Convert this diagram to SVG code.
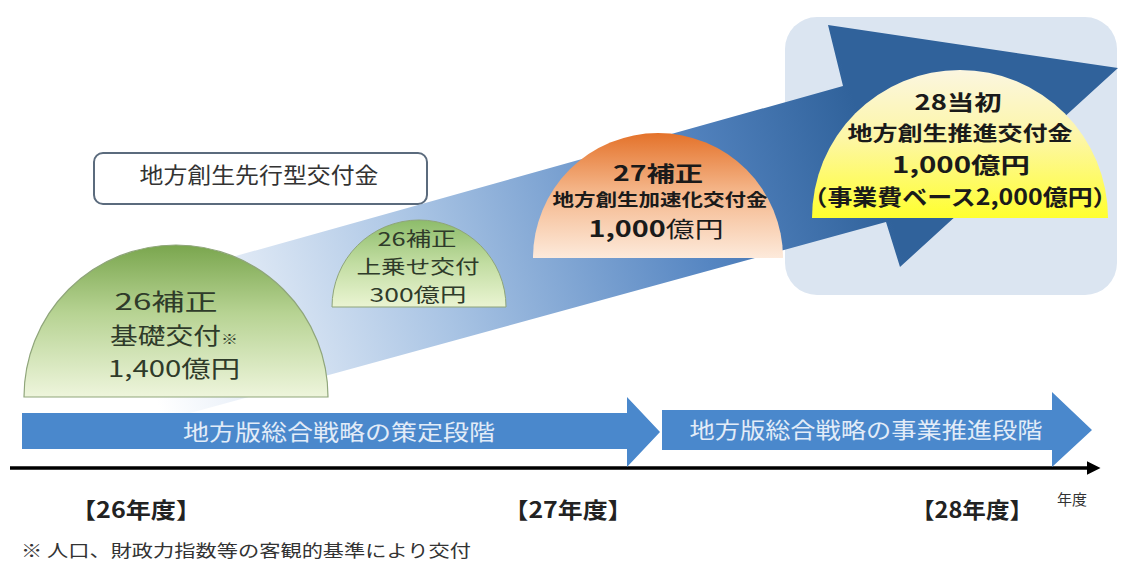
<svg xmlns="http://www.w3.org/2000/svg" width="1122" height="565" viewBox="0 0 1122 565">
<defs>
<linearGradient id="gShaft" gradientUnits="userSpaceOnUse" x1="150" y1="380" x2="870" y2="150">
<stop offset="0" stop-color="#ffffff"/>
<stop offset="0.12" stop-color="#e8eff8"/>
<stop offset="0.4" stop-color="#a9c4e4"/>
<stop offset="0.75" stop-color="#5686c2"/>
<stop offset="1" stop-color="#30629b"/>
</linearGradient>
<linearGradient id="gGreenBig" x1="0" y1="0" x2="0" y2="1">
<stop offset="0" stop-color="#7aa64e"/>
<stop offset="0.45" stop-color="#b7d393"/>
<stop offset="1" stop-color="#eef5dc"/>
</linearGradient>
<linearGradient id="gGreenSmall" x1="0" y1="0" x2="0" y2="1">
<stop offset="0" stop-color="#8dbc6a"/>
<stop offset="0.5" stop-color="#c2dda2"/>
<stop offset="1" stop-color="#eaf4d2"/>
</linearGradient>
<linearGradient id="gOrange" x1="0" y1="0" x2="0" y2="1">
<stop offset="0" stop-color="#e4722a"/>
<stop offset="0.45" stop-color="#f4b487"/>
<stop offset="1" stop-color="#fdeadb"/>
</linearGradient>
<linearGradient id="gYellow" x1="0" y1="0" x2="0" y2="1">
<stop offset="0" stop-color="#fbf6e0"/>
<stop offset="0.45" stop-color="#fdf6a8"/>
<stop offset="1" stop-color="#ffff2e"/>
</linearGradient>
<marker id="axisHead" markerWidth="4" markerHeight="4" refX="1" refY="2" orient="auto" markerUnits="strokeWidth">
<path d="M0,0 L4,2 L0,4 Z" fill="#000"/>
</marker>
</defs>
<style>
text{font-family:"Noto Sans CJK JP","Noto Sans",sans-serif;text-anchor:middle}
.g{fill:#2f3b2a}
.dk{fill:#1a1a1a;font-weight:bold}
.bar{fill:#4a88cc}
.bt{fill:#e2ecf8;font-size:22px}
.yr{fill:#222;font-weight:bold;font-size:22px}
</style>
<rect width="1122" height="565" fill="#ffffff"/>

<g id="panel28">
<rect x="785" y="17" width="332" height="278" rx="32" fill="#dbe5f1"/>
</g>

<g id="connectors">
<polygon id="bigArrow" points="150,280 843,86 828,25 1118,68 900,267 886,222 150,424" fill="url(#gShaft)"/>
<line x1="10" y1="468" x2="1090" y2="468" stroke="#000" stroke-width="3.5" marker-end="url(#axisHead)"/>
</g>

<g id="box-senko">
<rect x="94" y="153" width="333" height="51" rx="9" fill="#ffffff" stroke="#5b6b7d" stroke-width="2"/>
<text x="259" y="183" font-size="22" fill="#333" textLength="239" lengthAdjust="spacingAndGlyphs">地方創生先行型交付金</text>
</g>

<g id="node-26kiso">
<path d="M24,397 A152,152 0 0 1 328,397 Z" fill="url(#gGreenBig)" stroke="#8fa57a" stroke-width="1.2"/>
<text class="g" x="166" y="310" font-size="23" textLength="103" lengthAdjust="spacingAndGlyphs">26補正</text>
<text class="g" x="174" y="344" font-size="23" textLength="128" lengthAdjust="spacingAndGlyphs">基礎交付<tspan font-size="14">※</tspan></text>
<text class="g" x="174" y="377" font-size="23" textLength="132" lengthAdjust="spacingAndGlyphs">1,400億円</text>
</g>

<g id="node-26uwanose">
<path d="M332,307 A87,87 0 0 1 506,307 Z" fill="url(#gGreenSmall)" stroke="#8fa57a" stroke-width="1"/>
<text class="g" x="417" y="246" font-size="19" textLength="79" lengthAdjust="spacingAndGlyphs">26補正</text>
<text class="g" x="418" y="274" font-size="19" textLength="123" lengthAdjust="spacingAndGlyphs">上乗せ交付</text>
<text class="g" x="418" y="302" font-size="19" textLength="97" lengthAdjust="spacingAndGlyphs">300億円</text>
</g>

<g id="node-27">
<path d="M533,258 A125,125 0 0 1 783,258 Z" fill="url(#gOrange)"/>
<text class="dk" x="658" y="181" font-size="21" textLength="90" lengthAdjust="spacingAndGlyphs">27補正</text>
<text class="dk" x="660" y="206" font-size="17" textLength="215" lengthAdjust="spacingAndGlyphs">地方創生加速化交付金</text>
<text x="656" y="237" font-size="22" fill="#1a1a1a" textLength="135" lengthAdjust="spacingAndGlyphs"><tspan font-weight="bold">1,000</tspan>億円</text>
</g>

<g id="node-28">
<path d="M812,218 A148,148 0 0 1 1108,218 Z" fill="url(#gYellow)"/>
<text class="dk" x="958" y="110" font-size="21" textLength="87" lengthAdjust="spacingAndGlyphs">28当初</text>
<text class="dk" x="960" y="141" font-size="20" textLength="225" lengthAdjust="spacingAndGlyphs">地方創生推進交付金</text>
<text class="dk" x="961" y="173" font-size="22" textLength="138" lengthAdjust="spacingAndGlyphs">1,000億円</text>
<text class="dk" x="960" y="205" font-size="22" textLength="315" lengthAdjust="spacingAndGlyphs">（事業費ベース2,000億円）</text>
</g>

<g id="phase-sakutei">
<polygon class="bar" points="22,413 627,413 627,397 660,432 627,467 627,449 22,449"/>
<text class="bt" x="339" y="440" textLength="312" lengthAdjust="spacingAndGlyphs">地方版総合戦略の策定段階</text>
</g>

<g id="phase-suishin">
<polygon class="bar" points="662,410 1052,410 1052,392 1092,430 1052,467 1052,450 662,450"/>
<text class="bt" x="866" y="438" textLength="353" lengthAdjust="spacingAndGlyphs">地方版総合戦略の事業推進段階</text>
</g>

<g id="labels">
<text class="yr" x="136" y="518" textLength="130" lengthAdjust="spacingAndGlyphs">【26年度】</text>
<text class="yr" x="568" y="518" textLength="129" lengthAdjust="spacingAndGlyphs">【27年度】</text>
<text class="yr" x="972" y="518" textLength="122" lengthAdjust="spacingAndGlyphs">【28年度】</text>
<text x="1072" y="505" font-size="15" fill="#333">年度</text>
<text x="21" y="557" font-size="17" fill="#333" style="text-anchor:start" textLength="450" lengthAdjust="spacingAndGlyphs">※ 人口、財政力指数等の客観的基準により交付</text>
</g>
</svg>
